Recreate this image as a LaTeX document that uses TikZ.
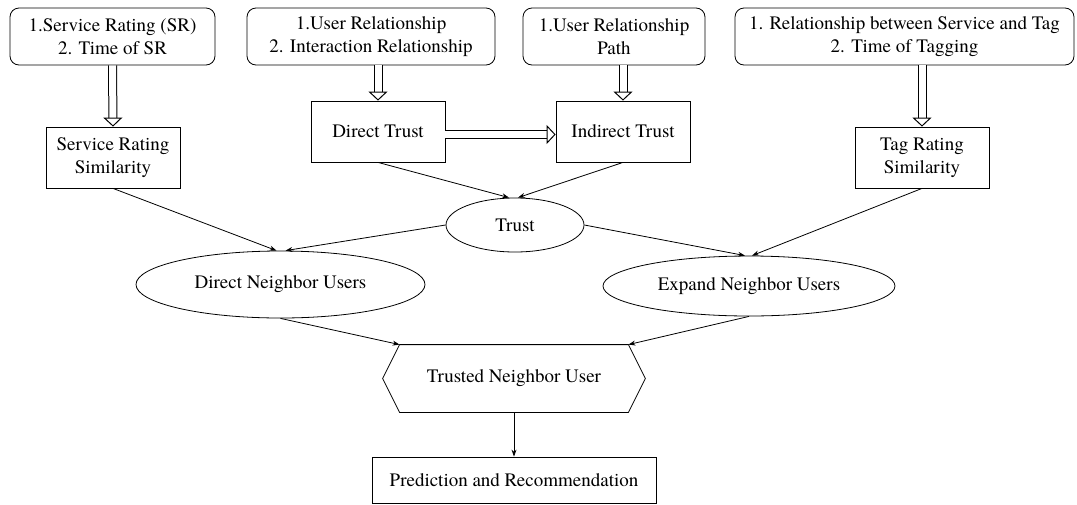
\documentclass[tikz,border=0pt]{standalone}
\usepackage{fontspec}
\setmainfont{TeX Gyre Termes}
\usetikzlibrary{arrows.meta,shapes.geometric}
\begin{document}
\begin{tikzpicture}[x=1pt,y=-1pt,line width=0.8pt,font=\fontsize{19}{23}\selectfont,
  source/.style={draw,rounded corners=9pt,align=center,inner sep=0pt,minimum height=57pt},
  block/.style={draw,align=center,inner sep=0pt,minimum width=134pt,minimum height=61pt},
  oval/.style={draw,ellipse,inner sep=0pt},
  dbl/.style={double,double distance=7pt,line width=1pt,
    -{Triangle[open,length=9pt,width=19pt,line width=1pt]}},
  conn/.style={line width=0.8pt,-{Stealth[length=7pt,width=5pt]}}]
\useasboundingbox (0,0) rectangle (1077,504);
% Datos de entrada
\node[source,minimum width=205pt] (rating) at (112.5,36.5) {1.Service Rating (SR)\\2. Time of SR};
\node[source,minimum width=248pt] (relation) at (371,36.5) {1.User Relationship\\2. Interaction Relationship};
\node[source,minimum width=182pt] (path) at (614,36.5) {1.User Relationship\\Path};
\node[source,minimum width=339pt] (tagging) at (904.5,36.5) {1. Relationship between Service and Tag\\2. Time of Tagging};
% Similitud y confianza
\node[block] (srs) at (113,157.5) {Service Rating\\Similarity};
\node[block] (direct) at (378,131.5) {Direct Trust};
\node[block] (indirect) at (623,131.5) {Indirect Trust};
\node[block] (trs) at (922,157.5) {Tag Rating\\Similarity};
\node[oval,minimum width=138pt,minimum height=54pt] (trust) at (515,225) {Trust};
% Vecinos
\node[oval,minimum width=289pt,minimum height=67pt] (dnu) at (280.5,284.5) {Direct Neighbor Users};
\node[oval,minimum width=292pt,minimum height=60pt] (enu) at (749,286) {Expand Neighbor Users};
\node[inner sep=0pt,minimum width=262pt,minimum height=67pt] (tnu) at (514,378.5) {Trusted Neighbor User};
\draw (tnu.west) -- ([xshift=17pt]tnu.north west) -- ([xshift=-17pt]tnu.north east) -- (tnu.east)
  -- ([xshift=-17pt]tnu.south east) -- ([xshift=17pt]tnu.south west) -- cycle;
\node[draw,inner sep=0pt,minimum width=284pt,minimum height=46pt] (pred) at (514,480) {Prediction and Recommendation};
% Flechas dobles
\draw[dbl] (rating.south) -- (srs.north);
\draw[dbl] (direct.north |- relation.south) -- (direct.north);
\draw[dbl] (indirect.north |- path.south) -- (indirect.north);
\draw[dbl] (trs.north |- tagging.south) -- (trs.north);
\draw[dbl] ([yshift=-3pt]direct.east) -- ([yshift=-3pt]indirect.west);
% Flechas simples
\draw[conn] (direct.south) -- ([xshift=-6pt]trust.north);
\draw[conn] (indirect.south) -- ([xshift=3pt]trust.north);
\draw[conn] (srs.south) -- ([xshift=-4pt]dnu.north);
\draw[conn] (trust.west) -- ([xshift=5pt]dnu.north);
\draw[conn] (trust.east) -- ([xshift=-4pt]enu.north);
\draw[conn] (trs.south) -- ([xshift=3pt]enu.north);
\draw[conn] (dnu.south) -- ([xshift=17pt]tnu.north west);
\draw[conn] (enu.south) -- ([xshift=-17pt]tnu.north east);
\draw[conn] (tnu.south) -- (pred.north);
\end{tikzpicture}
\end{document}
